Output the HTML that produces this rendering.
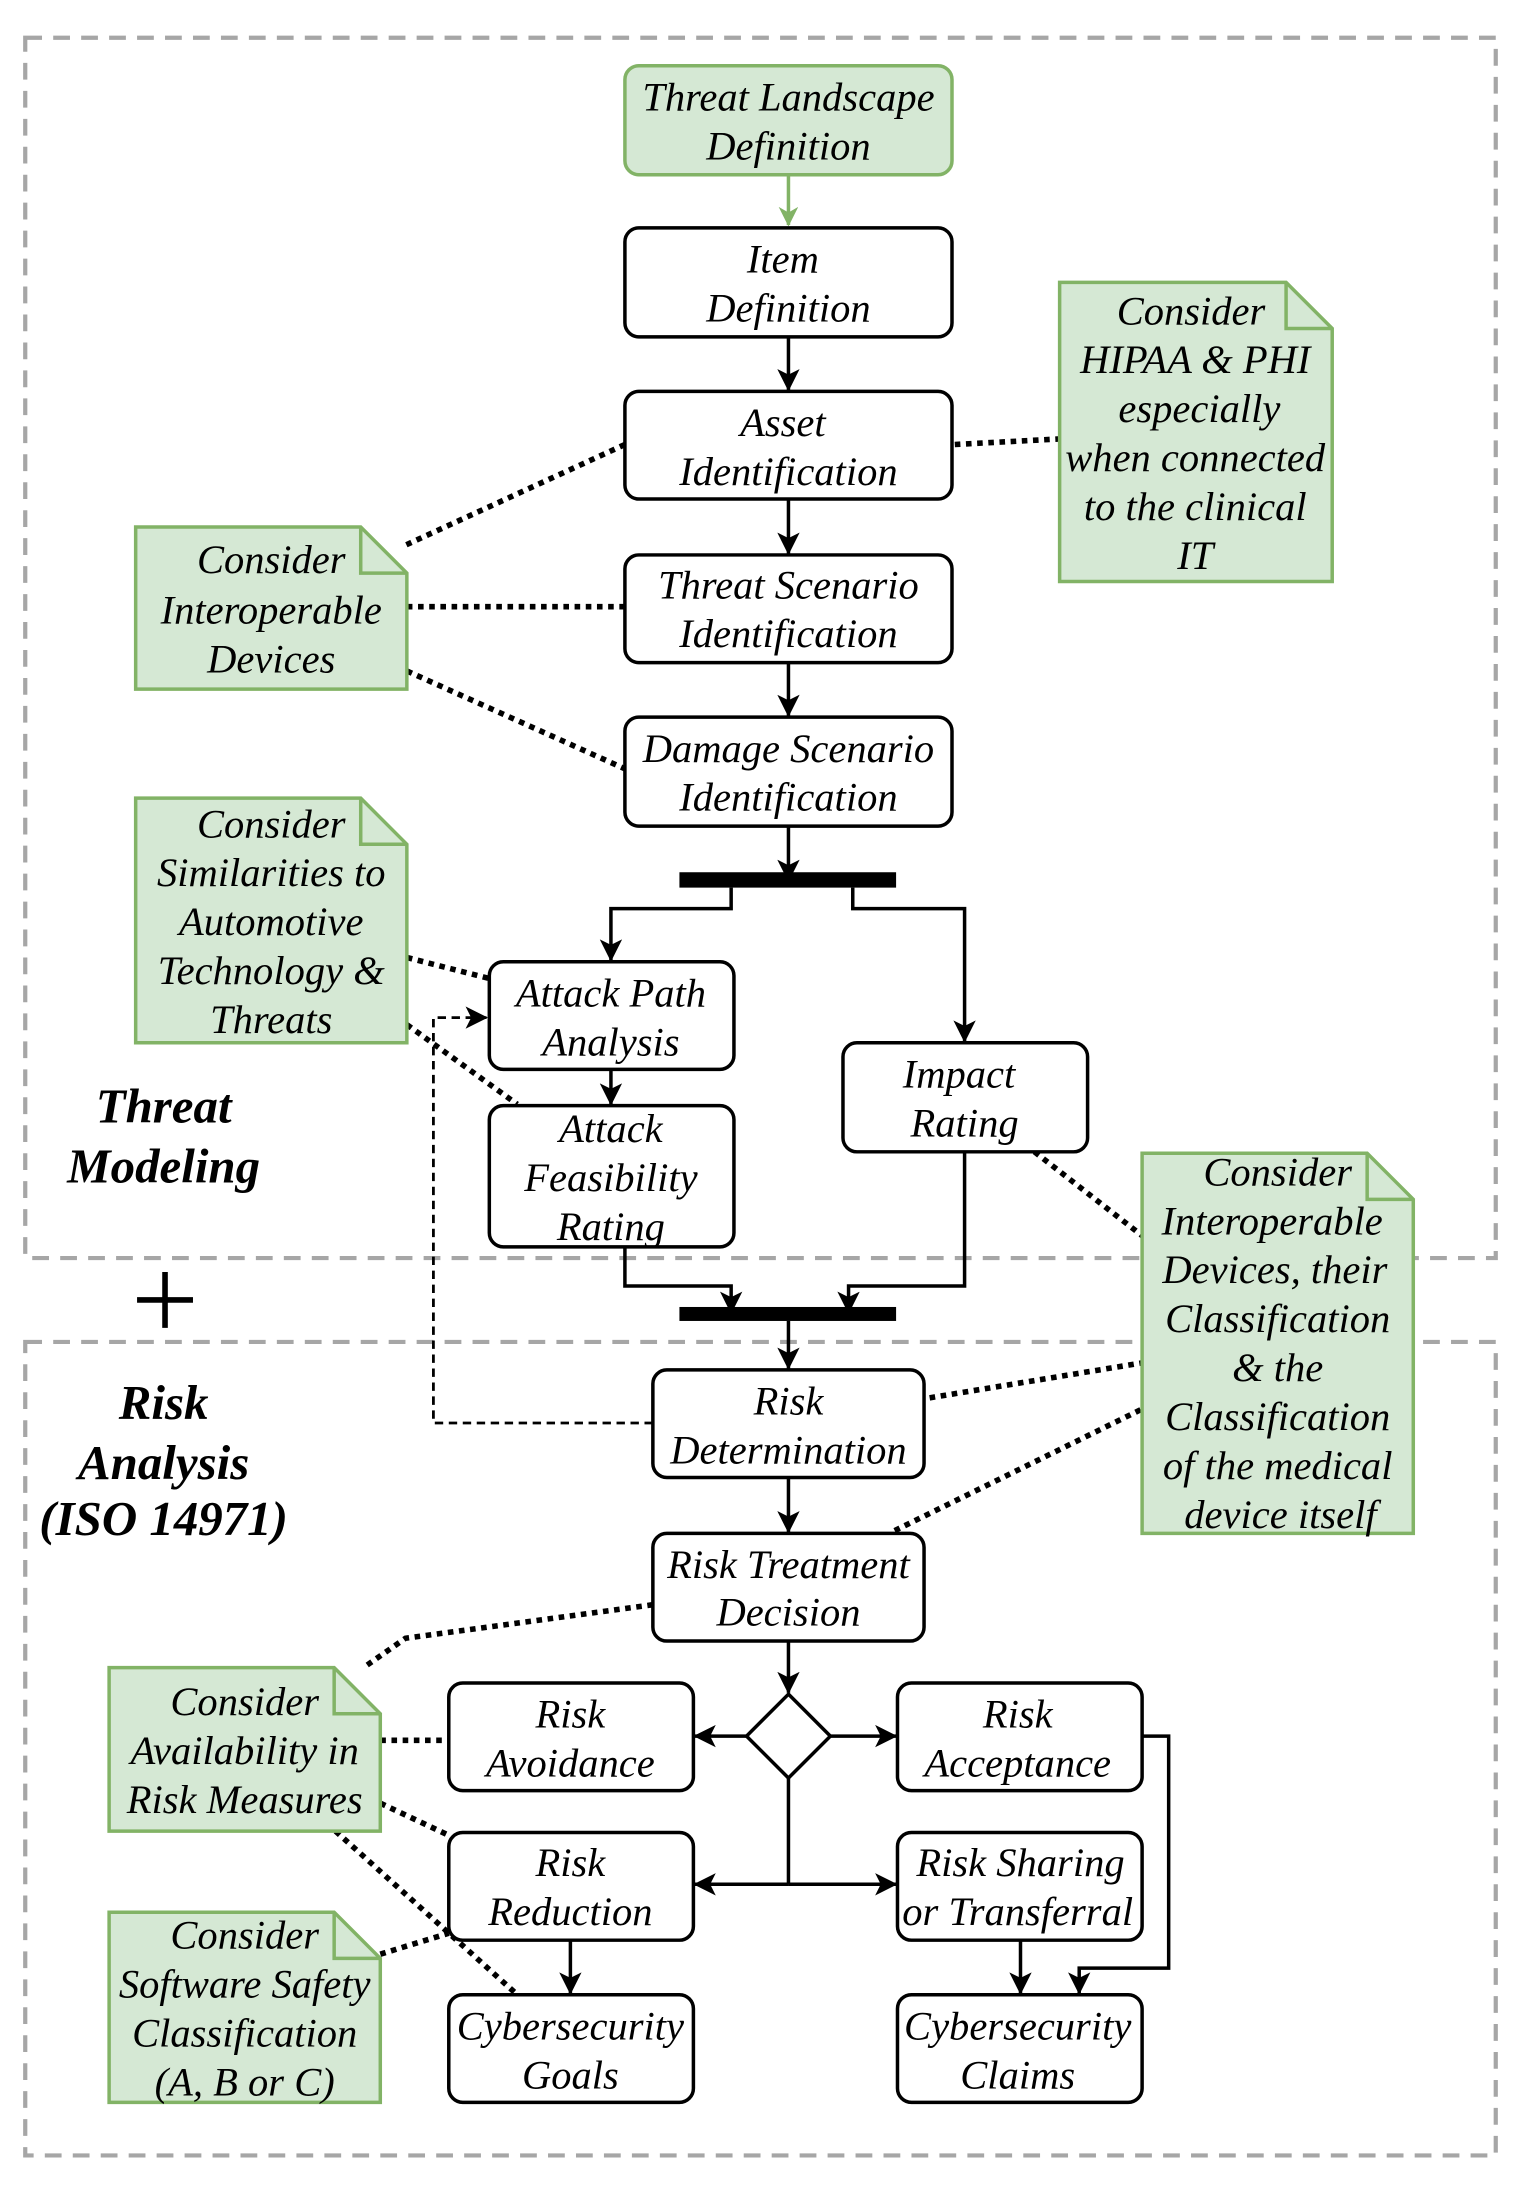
<!DOCTYPE html>
<html><head><meta charset="utf-8"><style>
html,body{margin:0;padding:0;background:#fff;}
svg{display:block;}
text{font-family:"Liberation Serif",serif;font-style:italic;font-size:29px;fill:#000;}
.b{font-weight:bold;font-size:35px;}
</style></head><body>
<svg width="1521" height="2189" viewBox="0 0 1088 1566" xmlns="http://www.w3.org/2000/svg">
<defs>
<marker id="g" markerWidth="14" markerHeight="14" refX="13" refY="7" orient="auto" markerUnits="userSpaceOnUse" viewBox="0 0 14 14"><path d="M0,0 L14,7 L0,14 L4,7 z" fill="#82b366"/></marker>
<marker id="k" markerWidth="16" markerHeight="16" refX="15" refY="8" orient="auto" markerUnits="userSpaceOnUse" viewBox="0 0 16 16"><path d="M0,0 L16,8 L0,16 L4,8 z" fill="#000"/></marker>
</defs>
<rect x="18" y="27" width="1052" height="873" fill="none" stroke="#a6a6a6" stroke-width="3" stroke-dasharray="12,8"/>
<rect x="18" y="960" width="1052" height="582" fill="none" stroke="#a6a6a6" stroke-width="3" stroke-dasharray="12,8"/>

<g stroke="#000" stroke-width="4" stroke-dasharray="4,4" fill="none">
<path d="M447,318 L290,390"/><path d="M291,434 L447,434"/><path d="M291,480 L447,550"/>
<path d="M683,318 L758,314"/><path d="M291,685 L350,700"/><path d="M291,733 L370,790"/>
<path d="M740,824 L817,884"/><path d="M665,1000 L817,975"/><path d="M640,1095 L817,1008"/>
<path d="M467,1148 L290,1172 L260,1193"/><path d="M272,1245 L321,1245"/>
<path d="M272,1290 L321,1313"/><path d="M240,1310 L370,1427"/><path d="M272,1398 L321,1383"/>
</g>
<path d="M467,1018 L310,1018 L310,728 L348,728" fill="none" stroke="#000" stroke-width="2" stroke-dasharray="6,4" marker-end="url(#k)"/>

<g stroke="#000" stroke-width="2.5" fill="none" marker-end="url(#k)">
<path d="M564,241 L564,279"/><path d="M564,357 L564,396"/><path d="M564,474 L564,512"/><path d="M564,591 L564,630"/>
<path d="M523,635 L523,650 L437,650 L437,687"/><path d="M610,635 L610,650 L690,650 L690,745"/>
<path d="M437,765 L437,790"/>
<path d="M447,892 L447,920 L523,920 L523,939"/><path d="M690,824 L690,920 L607,920 L607,939"/>
<path d="M564,945 L564,979"/><path d="M564,1057 L564,1096"/><path d="M564,1174 L564,1211"/>
<path d="M534,1242 L497,1242"/><path d="M594,1242 L641,1242"/>
<path d="M564,1348 L497,1348"/><path d="M564,1348 L641,1348"/>
<path d="M408,1388 L408,1426"/><path d="M730,1388 L730,1426"/>
<path d="M817,1242 L836,1242 L836,1408 L772,1408 L772,1426"/>
</g>
<path d="M564,1272 L564,1348" stroke="#000" stroke-width="2.5"/>
<path d="M564,125 L564,161" stroke="#82b366" stroke-width="2.5" marker-end="url(#g)"/>

<rect x="486" y="624" width="155" height="11" fill="#000"/>
<rect x="486" y="935" width="155" height="10" fill="#000"/>

<path d="M564,1212 L594,1242 L564,1272 L534,1242 Z" fill="#fff" stroke="#000" stroke-width="2.5"/>

<g stroke="#000" stroke-width="2.5" fill="#fff">
<rect x="447" y="163" width="234" height="78" rx="10"/>
<rect x="447" y="280" width="234" height="77" rx="10"/>
<rect x="447" y="397" width="234" height="77" rx="10"/>
<rect x="447" y="513" width="234" height="78" rx="10"/>
<rect x="350" y="688" width="175" height="77" rx="10"/>
<rect x="350" y="791" width="175" height="101" rx="10"/>
<rect x="603" y="746" width="175" height="78" rx="10"/>
<rect x="467" y="980" width="194" height="77" rx="10"/>
<rect x="467" y="1097" width="194" height="77" rx="10"/>
<rect x="321" y="1204" width="175" height="77" rx="10"/>
<rect x="642" y="1204" width="175" height="77" rx="10"/>
<rect x="321" y="1311" width="175" height="77" rx="10"/>
<rect x="642" y="1311" width="175" height="77" rx="10"/>
<rect x="321" y="1427" width="175" height="77" rx="10"/>
<rect x="642" y="1427" width="175" height="77" rx="10"/>
</g>
<rect x="447" y="47" width="234" height="78" rx="10" fill="#d5e8d4" stroke="#82b366" stroke-width="2.5"/>

<g fill="#d5e8d4" stroke="#82b366" stroke-width="2.5">
<path d="M758,202 L920,202 L953,235 L953,416 L758,416 Z"/><path d="M920,202 L920,235 L953,235" fill="none"/>
<path d="M97,377 L258,377 L291,410 L291,493 L97,493 Z"/><path d="M258,377 L258,410 L291,410" fill="none"/>
<path d="M97,571 L258,571 L291,604 L291,746 L97,746 Z"/><path d="M258,571 L258,604 L291,604" fill="none"/>
<path d="M817,825 L978,825 L1011,858 L1011,1097 L817,1097 Z"/><path d="M978,825 L978,858 L1011,858" fill="none"/>
<path d="M78,1193 L239,1193 L272,1226 L272,1310 L78,1310 Z"/><path d="M239,1193 L239,1226 L272,1226" fill="none"/>
<path d="M78,1368 L239,1368 L272,1401 L272,1504 L78,1504 Z"/><path d="M239,1368 L239,1401 L272,1401" fill="none"/>
</g>

<g text-anchor="middle">
<text x="564" y="79">Threat Landscape</text><text x="564" y="114">Definition</text>
<text x="560" y="195">Item</text><text x="564" y="230">Definition</text>
<text x="560" y="312">Asset</text><text x="564" y="347">Identification</text>
<text x="564" y="428">Threat Scenario</text><text x="564" y="463">Identification</text>
<text x="564" y="545">Damage Scenario</text><text x="564" y="580">Identification</text>
<text x="437" y="720">Attack Path</text><text x="437" y="755">Analysis</text>
<text x="437" y="817">Attack</text><text x="437" y="852">Feasibility</text><text x="437" y="887">Rating</text>
<text x="686" y="778">Impact</text><text x="690" y="813">Rating</text>
<text x="564" y="1012">Risk</text><text x="564" y="1047">Determination</text>
<text x="564" y="1129">Risk Treatment</text><text x="564" y="1163">Decision</text>
<text x="408" y="1236">Risk</text><text x="408" y="1271">Avoidance</text>
<text x="728" y="1236">Risk</text><text x="728" y="1271">Acceptance</text>
<text x="408" y="1342">Risk</text><text x="408" y="1377">Reduction</text>
<text x="730" y="1342">Risk Sharing</text><text x="728" y="1377">or Transferral</text>
<text x="408" y="1459">Cybersecurity</text><text x="408" y="1494">Goals</text>
<text x="728" y="1459">Cybersecurity</text><text x="728" y="1494">Claims</text>

<text x="852" y="232">Consider</text><text x="855" y="267">HIPAA &amp; PHI</text><text x="858" y="302">especially</text>
<text x="855" y="337">when connected</text><text x="855" y="372">to the clinical</text><text x="855" y="407">IT</text>

<text x="194" y="410">Consider</text><text x="194" y="446">Interoperable</text><text x="194" y="481">Devices</text>

<text x="194" y="599">Consider</text><text x="194" y="634">Similarities to</text><text x="194" y="669">Automotive</text>
<text x="194" y="704">Technology &amp;</text><text x="194" y="739">Threats</text>

<text x="914" y="848">Consider</text><text x="910" y="883">Interoperable</text><text x="912" y="918">Devices, their</text>
<text x="914" y="953">Classification</text><text x="914" y="988">&amp; the</text><text x="914" y="1023">Classification</text>
<text x="914" y="1058">of the medical</text><text x="916" y="1093">device itself</text>

<text x="175" y="1227">Consider</text><text x="175" y="1262">Availability in</text><text x="175" y="1297">Risk Measures</text>

<text x="175" y="1394">Consider</text><text x="175" y="1429">Software Safety</text><text x="175" y="1464">Classification</text><text x="175" y="1499">(A, B or C)</text>

<text class="b" x="117" y="803">Threat</text><text class="b" x="117" y="846">Modeling</text>
<text class="b" x="117" y="1015">Risk</text><text class="b" x="117" y="1058">Analysis</text><text class="b" x="117" y="1098">(ISO 14971)</text>
</g>
<path d="M98,930 L138,930 M118,910 L118,950" stroke="#000" stroke-width="4"/>
</svg>
</body></html>
